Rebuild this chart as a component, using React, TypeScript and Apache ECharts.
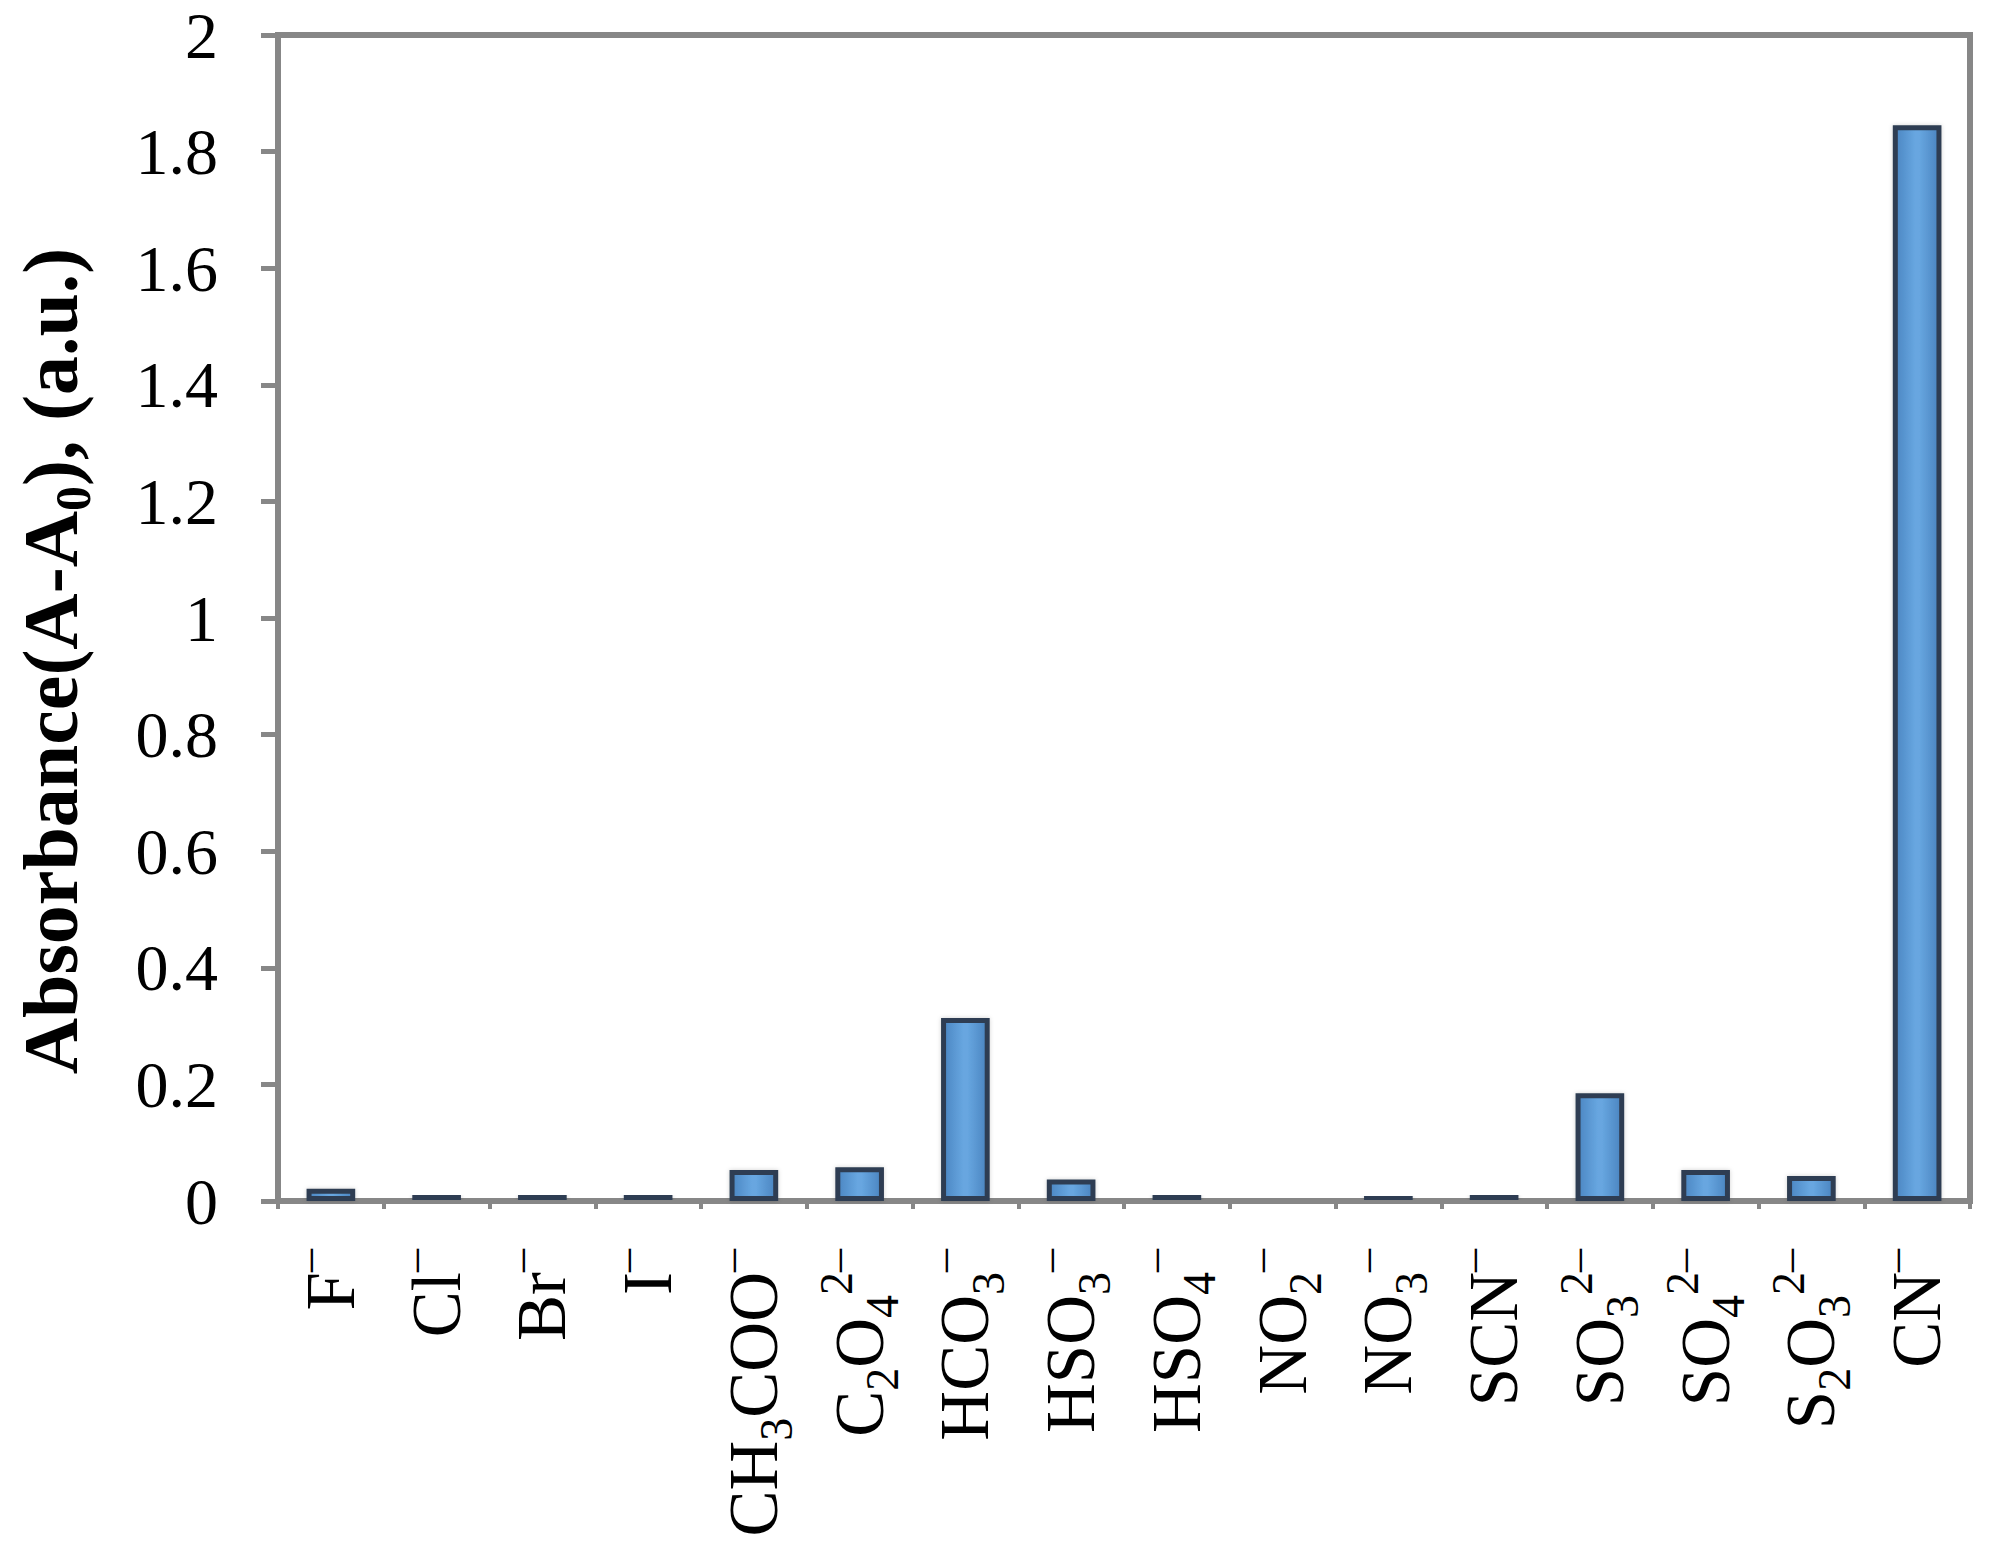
import React, { useEffect, useRef } from "react";
import * as echarts from "echarts";

const categories = ["F-", "Cl-", "Br-", "I-", "CH3COO-", "C2O4 2-", "HCO3-", "HSO3-", "HSO4-", "NO2-", "NO3-", "SCN-", "SO3 2-", "SO4 2-", "S2O3 2-", "CN-"];
const tickLabels = [
  "{n|F}{sup|–}",
  "{n|Cl}{sup|–}",
  "{n|Br}{sup|–}",
  "{n|I}{sup|–}",
  "{n|CH}{sub|3}{n|COO}{sup|–}",
  "{n|C}{sub|2}{n|O}{sub|4}{sup|2–}",
  "{n|HCO}{sub|3}{sup|–}",
  "{n|HSO}{sub|3}{sup|–}",
  "{n|HSO}{sub|4}{sup|–}",
  "{n|NO}{sub|2}{sup|–}",
  "{n|NO}{sub|3}{sup|–}",
  "{n|SCN}{sup|–}",
  "{n|SO}{sub|3}{sup|2–}",
  "{n|SO}{sub|4}{sup|2–}",
  "{n|S}{sub|2}{n|O}{sub|3}{sup|2–}",
  "{n|CN}{sup|–}",
];
const absorbance = [0.021, 0.011, 0.011, 0.011, 0.053, 0.058, 0.314, 0.037, 0.011, 0, 0.01, 0.011, 0.185, 0.053, 0.043, 1.845];
const yTicks = { min: 0, max: 2, interval: 0.2 };
const yTitle = "{b|Absorbance(A-A}{bs|0}{b|), (a.u.)}";

export default function App() {
  const ref = useRef<HTMLDivElement>(null);
  useEffect(() => {
    if (!ref.current) return;
    const chart = echarts.init(ref.current, null, { renderer: "svg" });
    const grey = "#878787";
    const serif = "Liberation Serif";
    chart.setOption({
      animation: false,
      backgroundColor: "#ffffff",
      grid: {
        left: 278,
        right: 23,
        top: 35,
        bottom: 363,
        show: true,
        borderColor: grey,
        borderWidth: 6,
        containLabel: false,
        outerBoundsMode: "none",
      },
      xAxis: {
        type: "category",
        data: categories,
        boundaryGap: true,
        axisLine: { show: true, lineStyle: { color: grey, width: 6 } },
        axisTick: { show: true, inside: false, length: 8, alignWithLabel: false, lineStyle: { color: grey, width: 4 } },
        axisLabel: {
          interval: 0,
          rotate: 90,
          margin: 48,
          formatter: (_v: string, i: number) => tickLabels[i],
          rich: {
            n: { fontFamily: serif, fontSize: 69, color: "#000", lineHeight: 92 },
            sub: { fontFamily: serif, fontSize: 46, color: "#000", lineHeight: 46, verticalAlign: "bottom" },
            sup: { fontFamily: serif, fontSize: 46, color: "#000", lineHeight: 62, verticalAlign: "top" },
          },
        },
        splitLine: { show: false },
      },
      yAxis: {
        type: "value",
        min: yTicks.min,
        max: yTicks.max,
        interval: yTicks.interval,
        name: yTitle,
        nameLocation: "middle",
        nameGap: 180,
        nameRotate: 90,
        nameTextStyle: {
          padding: [0, 86, 0, 0],
          rich: {
            b: { fontFamily: serif, fontWeight: "bold", fontSize: 78, color: "#000", lineHeight: 96 },
            bs: { fontFamily: serif, fontWeight: "bold", fontSize: 50, color: "#000", lineHeight: 48, verticalAlign: "bottom" },
          },
        },
        axisLine: { show: true, lineStyle: { color: grey, width: 6 } },
        axisTick: { show: true, inside: false, length: 17, lineStyle: { color: grey, width: 5 } },
        axisLabel: {
          margin: 60,
          fontFamily: serif,
          fontSize: 66,
          color: "#000",
          formatter: (v: number) => String(Math.round(v * 10) / 10),
        },
        splitLine: { show: false },
      },
      series: [
        {
          type: "bar",
          data: absorbance,
          barWidth: "46%",
          itemStyle: {
            color: new echarts.graphic.LinearGradient(0, 0, 1, 0, [
              { offset: 0, color: "#4b86c2" },
              { offset: 0.45, color: "#67a6e0" },
              { offset: 0.55, color: "#67a6e0" },
              { offset: 1, color: "#4a84c0" },
            ]),
            borderColor: "#2f3e52",
            borderWidth: 5,
            shadowColor: "rgba(0,0,0,0.18)",
            shadowBlur: 4,
          },
        },
      ],
    });
    return () => chart.dispose();
  }, []);
  return <div ref={ref} style={{ position: "absolute", left: 0, top: 0, width: 1993, height: 1564 }} />;
}
